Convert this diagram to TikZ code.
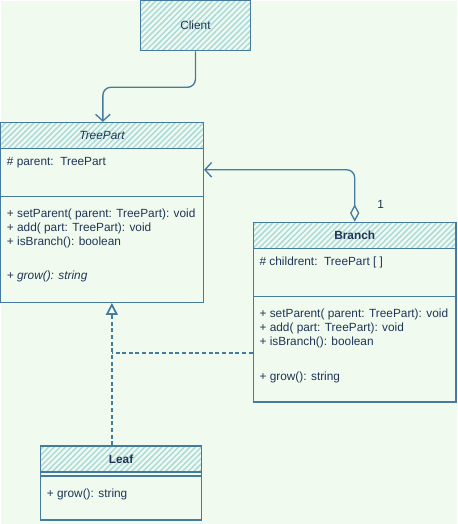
\documentclass[tikz,border=0pt]{standalone}
\usepackage{fontspec}
\setmainfont{Liberation Sans}
\usetikzlibrary{arrows.meta, positioning, fit, patterns.meta, calc}
\definecolor{umlstroke}{RGB}{69,123,157}
\definecolor{umlhatch}{RGB}{168,218,220}
\definecolor{umltext}{RGB}{29,53,87}
\definecolor{umlbg}{RGB}{241,250,238}

\begin{document}
\begin{tikzpicture}[x=0.75pt, y=-0.75pt,
  font=\fontsize{8.9}{10}\selectfont, text=umltext,
  clsbox/.style={draw=umlstroke, line width=1pt, inner sep=0pt},
  hdrbox/.style={clsbox, pattern={Lines[angle=45, distance=3pt, line width=1.1pt]}, pattern color=umlhatch},
  member/.style={anchor=west, inner sep=0pt},
  sepline/.style={draw=umlstroke, line width=1pt},
  assoc/.style={draw=umlstroke, line width=1pt, rounded corners=6pt},
  realize/.style={assoc, dash pattern=on 3pt off 2pt}
]
  \fill[umlbg] (0,0) rectangle (457,524);

  % classes
  \node[hdrbox, fit={(140,0)(250,50)}, label=center:Client] (client) {};

  \node[clsbox, fit={(0,122)(203,302)}] (tp) {};
  \node[hdrbox, fit={(0,122)(203,148)}, label={[font=\fontsize{8.9}{10}\selectfont\itshape]center:TreePart}] (tph) {};
  \draw[sepline] (0,196) -- (203,196);
  \node[member] (tp-attr) at (6,162) {\# parent:\ \ TreePart};
  \node[member] (tp-m1) at (6,214) {+ setParent( parent: TreePart): void};
  \node[member] (tp-m2) at (6,228) {+ add( part: TreePart): void};
  \node[member] (tp-m3) at (6,242) {+ isBranch(): boolean};
  \node[member, font=\fontsize{8.9}{10}\selectfont\itshape] (tp-m4) at (6,276) {+ grow(): string};

  \node[clsbox, fit={(253,222)(456,402)}] (br) {};
  \node[hdrbox, fit={(253,222)(456,248)}, label={[font=\fontsize{8.9}{10}\selectfont\bfseries]center:Branch}] (brh) {};
  \draw[sepline] (253,296) -- (456,296);
  \node[member] (br-attr) at (259,262) {\# childrent:\ \ TreePart [ ]};
  \node[member] (br-m1) at (259,314) {+ setParent( parent: TreePart): void};
  \node[member] (br-m2) at (259,328) {+ add( part: TreePart): void};
  \node[member] (br-m3) at (259,342) {+ isBranch(): boolean};
  \node[member] (br-m4) at (259,377) {+ grow(): string};

  \node[clsbox, fit={(40,446)(201,520)}] (leaf) {};
  \node[hdrbox, fit={(40,446)(201,472)}, label={[font=\fontsize{8.9}{10}\selectfont\bfseries]center:Leaf}] (leafh) {};
  \draw[sepline] (40,476) -- (201,476);
  \node[member] (leaf-m1) at (46,494) {+ grow(): string};

  % connectors
  \draw[assoc, -{Straight Barb[length=5pt, width=11pt]}]
    (client.south) -- ++(0,36) -| ($(tph.north west)+(103,0)$);
  \draw[assoc, {Diamond[open, length=13pt, width=7pt]}-{Straight Barb[length=5pt, width=11pt]}]
    (brh.north) |- ($(tp.north east)+(0,48)$);
  \node (mult) at ($(brh.north)+(26,-17)$) {1};

  \coordinate (join) at ($(tp.south west)+(112,50)$);
  \draw[realize] (br.west |- join) -- (join);
  \draw[realize, -{Triangle[open, length=9pt, width=9pt, line width=1.3pt]}]
    (leafh.north -| join) -- (tp.south -| join);
\end{tikzpicture}
\end{document}
